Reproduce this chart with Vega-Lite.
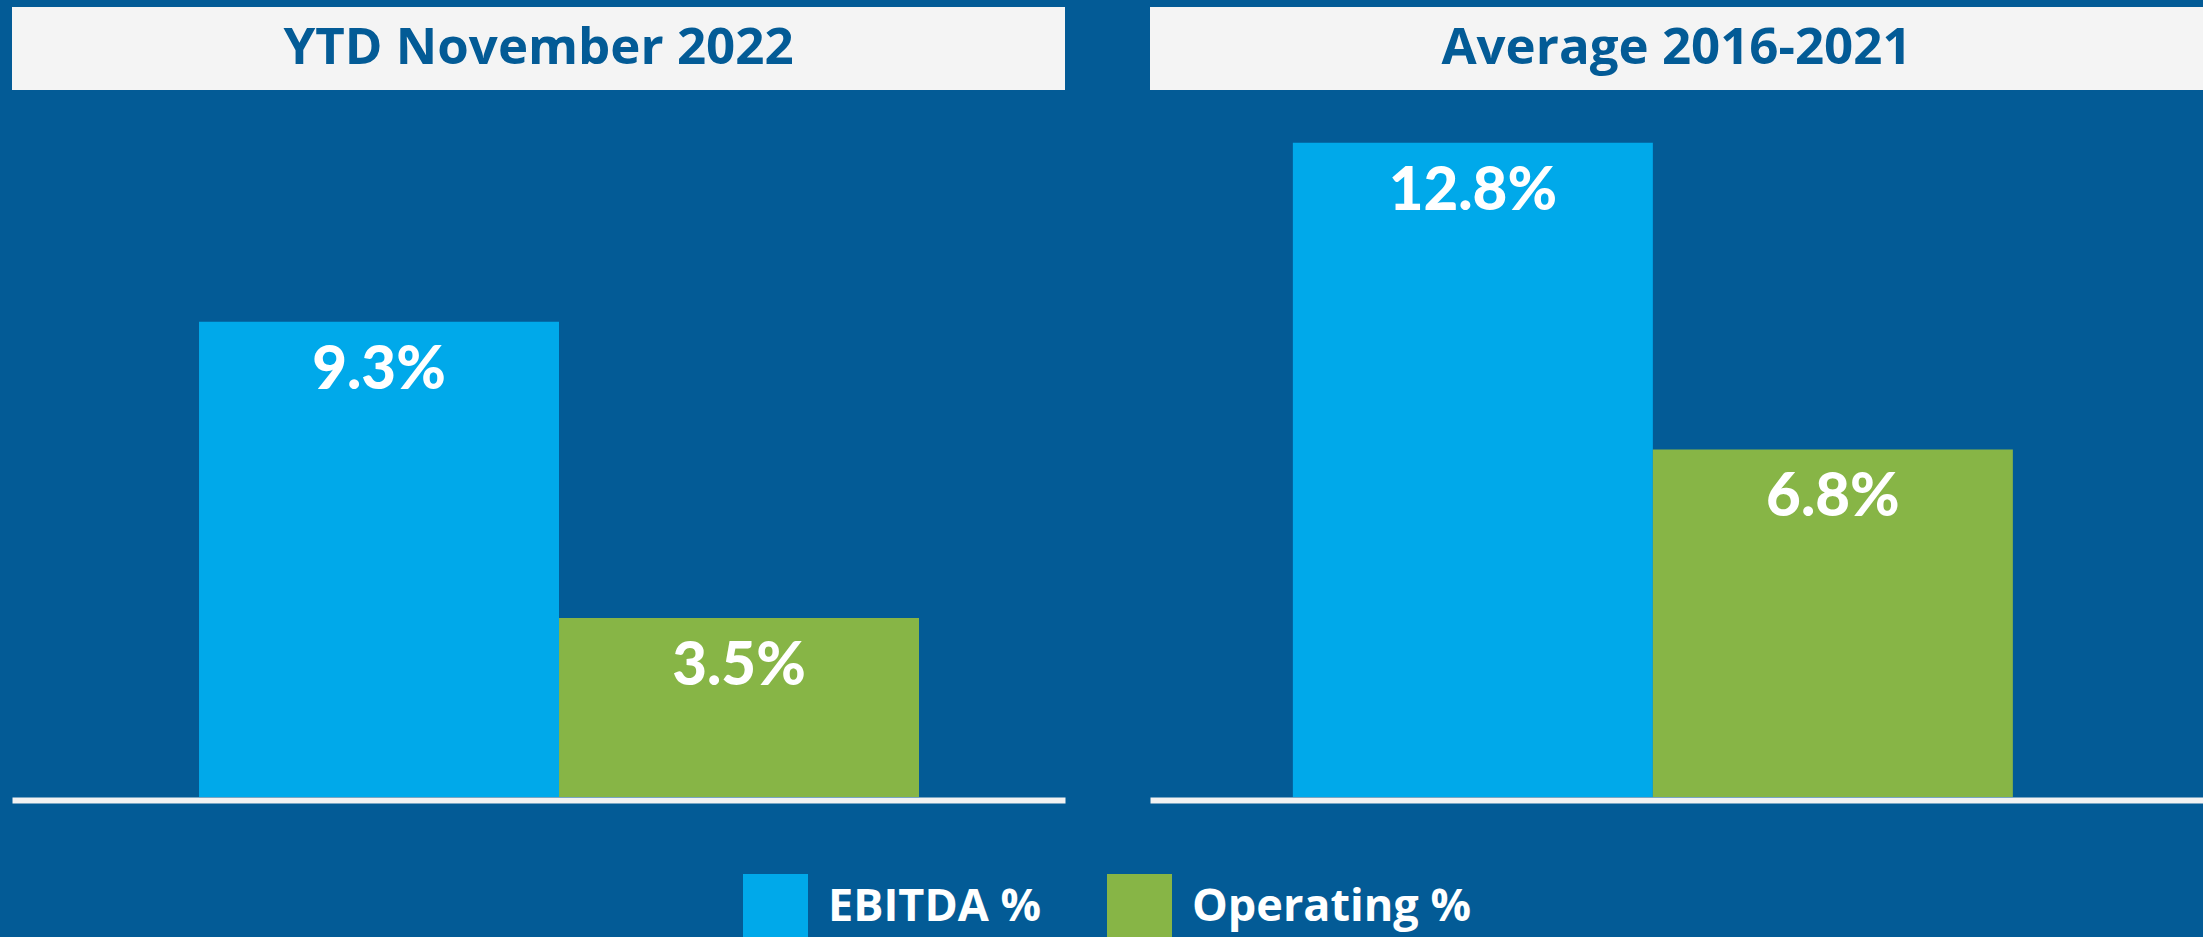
{
  "$schema": "https://vega.github.io/schema/vega-lite/v6.json",
  "background": "#035B96",
  "padding": {"left": 12, "top": 7, "right": 0, "bottom": 0},
  "data": {
    "values": [
      {"panel": "YTD November 2022", "metric": "EBITDA %", "value": 0.093},
      {"panel": "YTD November 2022", "metric": "Operating %", "value": 0.035},
      {"panel": "Average 2016-2021", "metric": "EBITDA %", "value": 0.128},
      {"panel": "Average 2016-2021", "metric": "Operating %", "value": 0.068}
    ]
  },
  "columns": 2,
  "spacing": {"row": 17, "column": 85},
  "concat": [
    {
      "width": 1053, "height": 83,
      "view": {"fill": "#F4F4F4", "stroke": null},
      "transform": [{"filter": "datum.panel === 'YTD November 2022' && datum.metric === 'EBITDA %'"}],
      "mark": {"type": "text", "font": "Open Sans", "fontWeight": "bold", "fontSize": 51, "color": "#035B96", "baseline": "middle", "align": "center"},
      "encoding": {"text": {"field": "panel"}}
    },
    {
      "width": 1053, "height": 83,
      "view": {"fill": "#F4F4F4", "stroke": null},
      "transform": [{"filter": "datum.panel === 'Average 2016-2021' && datum.metric === 'EBITDA %'"}],
      "mark": {"type": "text", "font": "Open Sans", "fontWeight": "bold", "fontSize": 51, "color": "#035B96", "baseline": "middle", "align": "center"},
      "encoding": {"text": {"field": "panel"}}
    },
    {
      "width": 1053, "height": 690,
      "transform": [{"filter": "datum.panel === 'YTD November 2022'"}],
      "encoding": {
        "x": {"field": "metric", "type": "nominal", "sort": ["EBITDA %", "Operating %"],
              "scale": {"paddingInner": 0, "paddingOuter": 0.4625, "align": 0.5616},
              "axis": {"title": null, "labels": false, "ticks": false, "domain": true, "domainColor": "#F2F2F2", "domainWidth": 6, "offset": 3, "grid": false}},
        "y": {"field": "value", "type": "quantitative", "scale": {"domain": [0, 0.135]}, "axis": null}
      },
      "layer": [
        {"mark": {"type": "bar"},
         "encoding": {"color": {"field": "metric", "type": "nominal",
            "scale": {"domain": ["EBITDA %", "Operating %"], "range": ["#00A9EA", "#87B546"]},
            "legend": {"title": null, "orient": "none", "direction": "horizontal", "legendX": 731, "legendY": 867,
                       "symbolType": "square", "symbolSize": 4225, "symbolStrokeWidth": 0, "symbolOpacity": 1,
                       "labelFont": "Open Sans", "labelFontWeight": "bold", "labelFontSize": 45, "labelColor": "#FFFFFF",
                       "labelOffset": 20, "columnPadding": 66, "padding": 0, "labelLimit": 500}}}},
        {"mark": {"type": "text", "font": "Lato", "fontWeight": 900, "fontSize": 60, "color": "#FFFFFF", "baseline": "middle", "dy": 49},
         "encoding": {"text": {"field": "value", "type": "quantitative", "format": ".1%"}}}
      ]
    },
    {
      "width": 1053, "height": 690,
      "transform": [{"filter": "datum.panel === 'Average 2016-2021'"}],
      "encoding": {
        "x": {"field": "metric", "type": "nominal", "sort": ["EBITDA %", "Operating %"],
              "scale": {"paddingInner": 0, "paddingOuter": 0.4625, "align": 0.429},
              "axis": {"title": null, "labels": false, "ticks": false, "domain": true, "domainColor": "#F2F2F2", "domainWidth": 6, "offset": 3, "grid": false}},
        "y": {"field": "value", "type": "quantitative", "scale": {"domain": [0, 0.135]}, "axis": null}
      },
      "layer": [
        {"mark": {"type": "bar"},
         "encoding": {"color": {"field": "metric", "type": "nominal",
            "scale": {"domain": ["EBITDA %", "Operating %"], "range": ["#00A9EA", "#87B546"]}}}},
        {"mark": {"type": "text", "font": "Lato", "fontWeight": 900, "fontSize": 60, "color": "#FFFFFF", "baseline": "middle", "dy": 49},
         "encoding": {"text": {"field": "value", "type": "quantitative", "format": ".1%"}}}
      ]
    }
  ],
  "config": {
    "view": {"stroke": null},
    "axis": {"grid": false}
  }
}
